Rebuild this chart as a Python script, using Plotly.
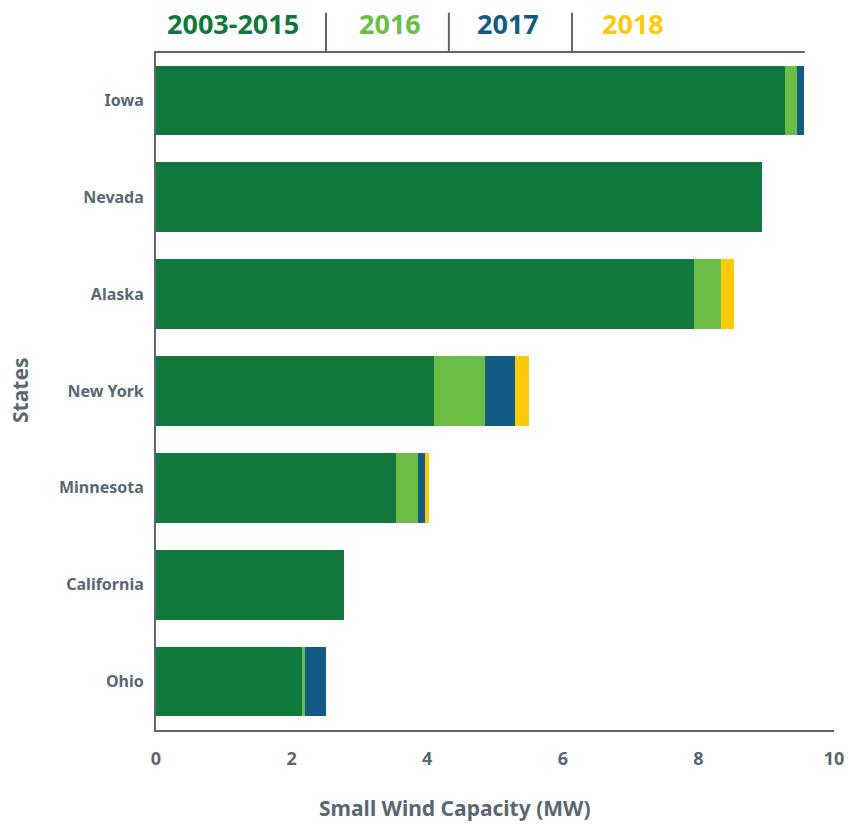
import plotly.graph_objects as go

states = ["Iowa", "Nevada", "Alaska", "New York", "Minnesota", "California", "Ohio"]
period_labels = ["2003-2015", "2016", "2017", "2018"]
cap_2003_2015 = [9.27, 8.94, 7.93, 4.10, 3.54, 2.78, 2.16]
cap_2016 = [0.19, 0.0, 0.40, 0.75, 0.33, 0.0, 0.04]
cap_2017 = [0.10, 0.0, 0.0, 0.44, 0.10, 0.0, 0.30]
cap_2018 = [0.0, 0.0, 0.19, 0.21, 0.06, 0.0, 0.0]
series = [cap_2003_2015, cap_2016, cap_2017, cap_2018]
colors = ["#10783c", "#6cbd45", "#125b84", "#fdca0a"]

FONT = "Noto Sans, Open Sans, Liberation Sans, sans-serif"
GRAY = "#5b6770"


def fnt(size, color=GRAY):
    return dict(family=FONT, size=size, color=color, weight="bold")


fig = go.Figure()
for name, vals, col in zip(period_labels, series, colors):
    fig.add_trace(go.Bar(y=states, x=vals, name=name, orientation="h",
                         marker=dict(color=col, line=dict(width=0)),
                         showlegend=False))

fig.update_layout(
    width=848, height=826,
    margin=dict(l=156, r=14, t=52, b=96, autoexpand=False),
    barmode="stack", bargap=0.28,
    plot_bgcolor="white", paper_bgcolor="white",
    font=fnt(16),
    xaxis=dict(range=[0, 10], tickvals=[0, 2, 4, 6, 8, 10], showgrid=False, zeroline=False,
               automargin=False,
               showline=True, linecolor=GRAY, linewidth=2,
               ticks="outside", ticklen=11, tickcolor="rgba(0,0,0,0)",
               tickfont=fnt(18)),
    yaxis=dict(autorange="reversed", showgrid=False, zeroline=False,
               automargin=False,
               showline=True, linecolor=GRAY, linewidth=2,
               ticks="outside", ticklen=7, tickcolor="rgba(0,0,0,0)",
               tickfont=fnt(16)),
)

# Top rule
fig.add_shape(type="line", xref="paper", yref="paper", x0=-0.003, x1=0.957, y0=1.0, y1=1.0,
              line=dict(color=GRAY, width=2))
# Legend separators
for sx in [0.2507, 0.432, 0.6136]:
    fig.add_shape(type="line", xref="paper", yref="paper", x0=sx, x1=sx, y0=1.0, y1=1.058,
                  line=dict(color=GRAY, width=2))
# Legend labels
for lx, lab, col in zip([0.1136, 0.345, 0.519, 0.7035], period_labels, colors):
    fig.add_annotation(x=lx, y=1.042, xref="paper", yref="paper", text=lab, showarrow=False,
                       font=fnt(27, col), xanchor="center", yanchor="middle")

# Axis titles
fig.add_annotation(x=(455 - 156) / 678, y=-(808 - 730) / 678, xref="paper", yref="paper",
                   text="Small Wind Capacity (MW)", showarrow=False,
                   xanchor="center", yanchor="middle", font=fnt(21))
fig.add_annotation(x=-(156 - 20) / 678, y=0.5, xref="paper", yref="paper", text="States",
                   showarrow=False, textangle=-90, xanchor="center", yanchor="middle",
                   font=fnt(21))

post = "document.body.style.margin='0';"
fig.write_html("out.html", post_script=post, config={"displayModeBar": False})
